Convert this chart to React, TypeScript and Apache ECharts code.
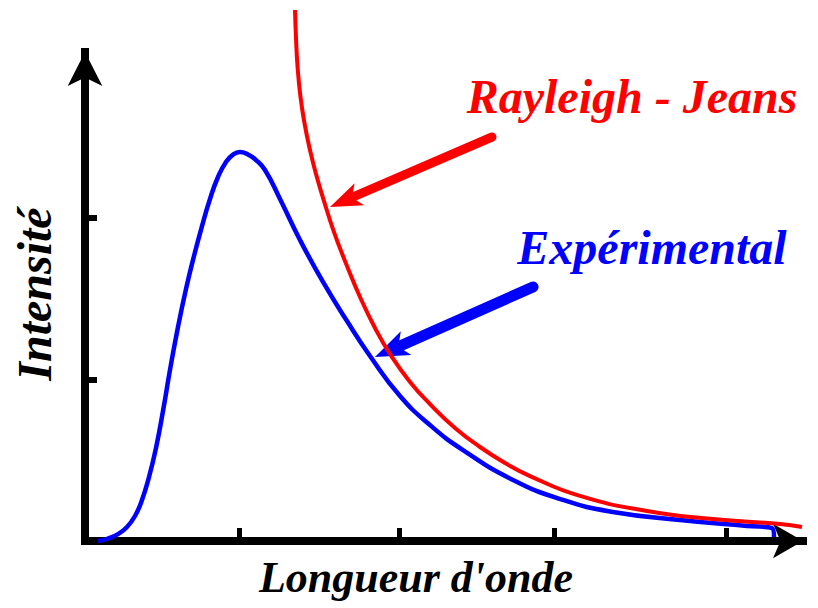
import React, { useEffect, useRef } from "react";
import * as echarts from "echarts";

// Wavelength (arbitrary units) and intensity (arbitrary units)
const experimentalWavelength = [
  0.13, 0.23, 0.33, 0.42, 0.5, 0.57, 0.64, 0.71, 0.78, 0.85, 0.93, 1.01, 1.09, 1.17, 1.25, 1.33,
  1.41, 1.48, 1.55, 1.63, 1.71, 1.8, 1.95, 2.15, 2.38, 2.62, 2.85, 3.15, 3.45, 3.78, 4.28, 4.78,
  5.28, 5.95, 6.62, 6.87, 6.89,
];
const experimentalIntensity = [
  0.0, 0.015, 0.043, 0.087, 0.155, 0.254, 0.396, 0.576, 0.805, 1.059, 1.325, 1.56, 1.765, 1.95,
  2.118, 2.254, 2.347, 2.393, 2.409, 2.393, 2.359, 2.297, 2.118, 1.864, 1.604, 1.362, 1.146, 0.898,
  0.718, 0.563, 0.378, 0.254, 0.18, 0.13, 0.093, 0.08, 0.025,
];
const rayleighWavelength = [
  2.1, 2.11, 2.125, 2.155, 2.2, 2.25, 2.31, 2.39, 2.49, 2.62, 2.75, 2.9, 3.05, 3.25, 3.45, 3.7,
  3.95, 4.2, 4.45, 4.95, 5.62, 6.28, 6.95, 7.17,
];
const rayleighIntensity = [
  3.288, 3.115, 2.941, 2.749, 2.57, 2.421, 2.272, 2.105, 1.913, 1.703, 1.511, 1.319, 1.158, 0.985,
  0.848, 0.7, 0.582, 0.483, 0.402, 0.279, 0.186, 0.136, 0.105, 0.087,
];
const xTickValues = [1.54, 3.14, 4.69, 6.41];
const yTickValues = [1, 2];

const xLabel = "Longueur d'onde";
const yLabel = "Intensité";
const rayleighLabel = "Rayleigh - Jeans";
const experimentalLabel = "Expérimental";

const RED = "#ff0000";
const BLUE = "#0000ff";
const FONT = '"Liberation Serif", "DejaVu Serif", serif';

function arrow(tail: number[], tip: number[], color: string, width: number, headLen: number, headHalf: number) {
  const dx = tip[0] - tail[0];
  const dy = tip[1] - tail[1];
  const len = Math.sqrt(dx * dx + dy * dy);
  const ux = dx / len;
  const uy = dy / len;
  const px = -uy;
  const py = ux;
  const bx = tip[0] - ux * headLen;
  const by = tip[1] - uy * headLen;
  const nx = tip[0] - ux * headLen * 0.75;
  const ny = tip[1] - uy * headLen * 0.75;
  return [
    {
      type: "line",
      shape: { x1: tail[0], y1: tail[1], x2: nx, y2: ny },
      style: { stroke: color, lineWidth: width, lineCap: "round" },
    },
    {
      type: "polygon",
      shape: {
        points: [
          [tip[0], tip[1]],
          [bx + px * headHalf, by + py * headHalf],
          [nx, ny],
          [bx - px * headHalf, by - py * headHalf],
        ],
      },
      style: { fill: color },
    },
  ];
}

export default function App() {
  const ref = useRef<HTMLDivElement>(null);
  useEffect(() => {
    const chart = echarts.init(ref.current!, null, { renderer: "svg" });
    const option: any = {
      animation: false,
      backgroundColor: "#ffffff",
      grid: { left: 85, top: 52, width: 718, height: 489, outerBoundsMode: "none" },
      xAxis: {
        type: "value",
        min: 0,
        max: 7.18,
        axisLine: {
          show: true,
          symbol: ["none", "arrow"],
          symbolSize: [26, 30],
          lineStyle: { color: "#000", width: 8, cap: "square" },
        },
        axisTick: {
          show: true,
          inside: true,
          length: 13,
          customValues: xTickValues,
          lineStyle: { color: "#000", width: 5 },
        },
        axisLabel: { show: false },
        splitLine: { show: false },
      },
      yAxis: {
        type: "value",
        min: 0,
        max: 3.028,
        axisLine: {
          show: true,
          symbol: ["none", "arrow"],
          symbolSize: [26, 34],
          lineStyle: { color: "#000", width: 8, cap: "square" },
        },
        axisTick: {
          show: true,
          inside: true,
          length: 12,
          customValues: yTickValues,
          lineStyle: { color: "#000", width: 6 },
        },
        axisLabel: { show: false },
        splitLine: { show: false },
      },
      series: [
        {
          name: rayleighLabel,
          type: "line",
          clip: false,
          smooth: 0.5,
          showSymbol: false,
          data: rayleighWavelength.map((x, i) => [x, rayleighIntensity[i]]),
          lineStyle: { color: RED, width: 4 },
          z: 3,
        },
        {
          name: experimentalLabel,
          type: "line",
          clip: false,
          smooth: 0.5,
          showSymbol: false,
          data: experimentalWavelength.map((x, i) => [x, experimentalIntensity[i]]),
          lineStyle: { color: BLUE, width: 4.5 },
          z: 2,
        },
      ],
      graphic: [
        ...arrow([492, 137], [330, 207], RED, 9, 32, 12),
        ...arrow([533, 287], [375, 357], BLUE, 11, 34, 13),
        {
          type: "text",
          x: 632,
          y: 96,
          style: {
            text: rayleighLabel,
            fill: RED,
            fontFamily: FONT,
            fontSize: 48,
            fontWeight: "bold",
            fontStyle: "italic",
            align: "center",
            verticalAlign: "middle",
          },
        },
        {
          type: "text",
          x: 652,
          y: 247,
          style: {
            text: experimentalLabel,
            fill: BLUE,
            fontFamily: FONT,
            fontSize: 48,
            fontWeight: "bold",
            fontStyle: "italic",
            align: "center",
            verticalAlign: "middle",
          },
        },
        {
          type: "text",
          x: 416,
          y: 577,
          style: {
            text: xLabel,
            fill: "#000",
            fontFamily: FONT,
            fontSize: 44,
            fontWeight: "bold",
            fontStyle: "italic",
            align: "center",
            verticalAlign: "middle",
          },
        },
        {
          type: "text",
          x: 34,
          y: 294,
          rotation: Math.PI / 2,
          style: {
            text: yLabel,
            fill: "#000",
            fontFamily: FONT,
            fontSize: 48,
            fontWeight: "bold",
            fontStyle: "italic",
            align: "center",
            verticalAlign: "middle",
          },
        },
      ],
    };
    chart.setOption(option);
    return () => chart.dispose();
  }, []);
  return (
    <div
      ref={ref}
      style={{ position: "fixed", left: 0, top: 0, width: 818, height: 608, background: "#fff" }}
    />
  );
}
